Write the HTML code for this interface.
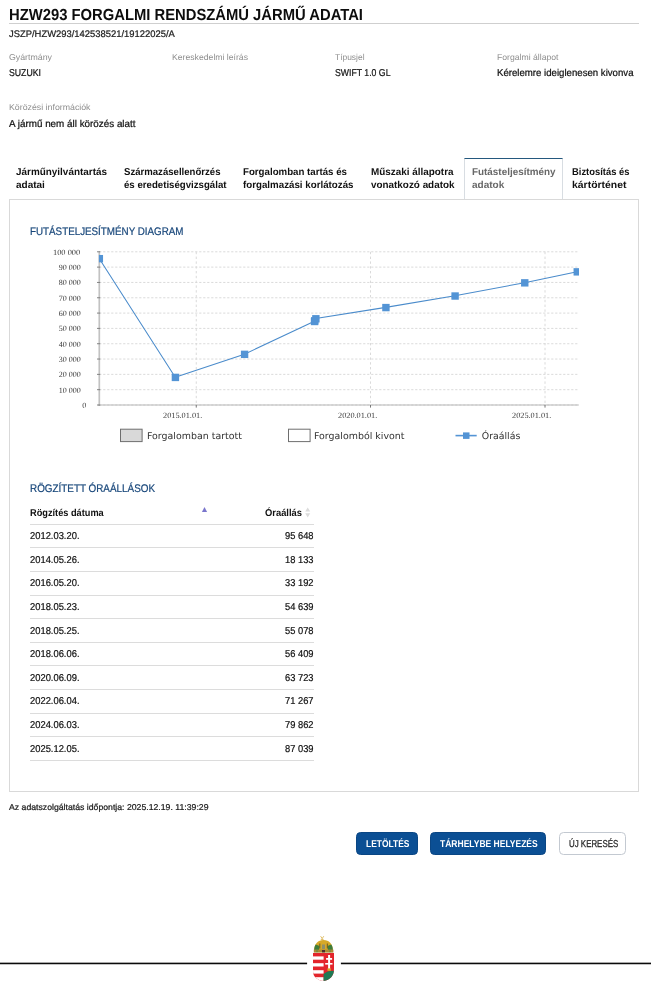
<!DOCTYPE html>
<html lang="hu">
<head>
<meta charset="utf-8">
<title>HZW293 forgalmi rendszámú jármű adatai</title>
<style>
html,body{margin:0;padding:0;background:#fff;}
body{width:651px;height:983px;position:relative;overflow:hidden;font-family:"Liberation Sans",sans-serif;color:#111;}
.abs{position:absolute;}
.t{position:absolute;white-space:nowrap;transform-origin:0 0;text-rendering:geometricPrecision;}
.hr{position:absolute;left:9px;top:23px;width:630px;height:1px;background:#cfcfcf;}
.panel{position:absolute;left:9px;top:199px;width:630px;height:593px;border:1px solid #d9d9d9;box-sizing:border-box;background:transparent;}
.tabact{position:absolute;left:464px;top:157.7px;width:99px;height:41.5px;border:1px solid #d8dde2;border-top:1.5px solid #24587e;border-bottom:none;background:#fff;box-sizing:border-box;}
.row{position:absolute;left:30px;width:284px;height:1px;background:#dcdcdc;}
.btn{position:absolute;top:831.6px;height:23px;box-sizing:border-box;border-radius:4.5px;}
.btn.p{background:#0b4f94;border:1px solid #0a4684;}
.btn.s{background:#fff;border:1px solid #c3c9d1;}
.fl{position:absolute;top:962.6px;height:1.6px;background:#0a0a0a;}
</style>
</head>
<body>
<div class="hr"></div>
<div class="tabact"></div>
<div class="panel"></div>
<div class="row" style="top:523.75px"></div>
<div class="row" style="top:547.35px"></div>
<div class="row" style="top:570.95px"></div>
<div class="row" style="top:594.55px"></div>
<div class="row" style="top:618.15px"></div>
<div class="row" style="top:641.75px"></div>
<div class="row" style="top:665.35px"></div>
<div class="row" style="top:688.95px"></div>
<div class="row" style="top:712.55px"></div>
<div class="row" style="top:736.15px"></div>
<div class="row" style="top:759.75px"></div>
<svg class="abs" style="left:198px;top:504px" width="12" height="12" viewBox="0 0 12 12"><path d="M3.9 7.9 L6.5 3.1 L9.1 7.9 Z" fill="#7a76cc"/></svg>
<svg class="abs" style="left:302px;top:504px" width="12" height="16" viewBox="0 0 12 16"><path d="M3.2 7.6 L5.7 3.4 L8.2 7.6 Z M3.2 9.2 L5.7 13.4 L8.2 9.2 Z" fill="#dcdcdc"/></svg>
<div class="btn p" style="left:356px;width:61.8px"></div>
<div class="btn p" style="left:430px;width:116.2px"></div>
<div class="btn s" style="left:559.2px;width:67.2px"></div>
<svg class="abs" style="left:0;top:240px" width="651" height="215" viewBox="0 240 651 215">
<defs><clipPath id="pc"><rect x="98.9" y="245.8" width="480.10" height="165.2"/></clipPath></defs>
<line x1="99.2" x2="578.8" y1="405.00" y2="405.00" stroke="#d6d6d6" stroke-width="0.9" stroke-dasharray="2.2 1.8"/>
<line x1="99.2" x2="578.8" y1="389.68" y2="389.68" stroke="#d6d6d6" stroke-width="0.9" stroke-dasharray="2.2 1.8"/>
<line x1="99.2" x2="578.8" y1="374.36" y2="374.36" stroke="#d6d6d6" stroke-width="0.9" stroke-dasharray="2.2 1.8"/>
<line x1="99.2" x2="578.8" y1="359.04" y2="359.04" stroke="#d6d6d6" stroke-width="0.9" stroke-dasharray="2.2 1.8"/>
<line x1="99.2" x2="578.8" y1="343.72" y2="343.72" stroke="#d6d6d6" stroke-width="0.9" stroke-dasharray="2.2 1.8"/>
<line x1="99.2" x2="578.8" y1="328.40" y2="328.40" stroke="#d6d6d6" stroke-width="0.9" stroke-dasharray="2.2 1.8"/>
<line x1="99.2" x2="578.8" y1="313.08" y2="313.08" stroke="#d6d6d6" stroke-width="0.9" stroke-dasharray="2.2 1.8"/>
<line x1="99.2" x2="578.8" y1="297.76" y2="297.76" stroke="#d6d6d6" stroke-width="0.9" stroke-dasharray="2.2 1.8"/>
<line x1="99.2" x2="578.8" y1="282.44" y2="282.44" stroke="#d6d6d6" stroke-width="0.9" stroke-dasharray="2.2 1.8"/>
<line x1="99.2" x2="578.8" y1="267.12" y2="267.12" stroke="#d6d6d6" stroke-width="0.9" stroke-dasharray="2.2 1.8"/>
<line x1="99.2" x2="578.8" y1="251.80" y2="251.80" stroke="#d6d6d6" stroke-width="0.9" stroke-dasharray="2.2 1.8"/>
<line x1="196.25" x2="196.25" y1="251.80" y2="405.0" stroke="#d6d6d6" stroke-width="0.9" stroke-dasharray="2.4 2.4"/>
<line x1="370.5" x2="370.5" y1="251.80" y2="405.0" stroke="#d6d6d6" stroke-width="0.9" stroke-dasharray="2.4 2.4"/>
<line x1="545.0" x2="545.0" y1="251.80" y2="405.0" stroke="#d6d6d6" stroke-width="0.9" stroke-dasharray="2.4 2.4"/>
<line x1="99.3" x2="99.3" y1="251.30" y2="406.0" stroke="#c2c2c2" stroke-width="1.7"/>
<line x1="98.2" x2="578.8" y1="405.0" y2="405.0" stroke="#b8b8b8" stroke-width="1.2"/>
<line x1="97.0" x2="100.2" y1="405.00" y2="405.00" stroke="#777" stroke-width="0.9"/>
<line x1="97.0" x2="100.2" y1="389.68" y2="389.68" stroke="#777" stroke-width="0.9"/>
<line x1="97.0" x2="100.2" y1="374.36" y2="374.36" stroke="#777" stroke-width="0.9"/>
<line x1="97.0" x2="100.2" y1="359.04" y2="359.04" stroke="#777" stroke-width="0.9"/>
<line x1="97.0" x2="100.2" y1="343.72" y2="343.72" stroke="#777" stroke-width="0.9"/>
<line x1="97.0" x2="100.2" y1="328.40" y2="328.40" stroke="#777" stroke-width="0.9"/>
<line x1="97.0" x2="100.2" y1="313.08" y2="313.08" stroke="#777" stroke-width="0.9"/>
<line x1="97.0" x2="100.2" y1="297.76" y2="297.76" stroke="#777" stroke-width="0.9"/>
<line x1="97.0" x2="100.2" y1="282.44" y2="282.44" stroke="#777" stroke-width="0.9"/>
<line x1="97.0" x2="100.2" y1="267.12" y2="267.12" stroke="#777" stroke-width="0.9"/>
<line x1="97.0" x2="100.2" y1="251.80" y2="251.80" stroke="#777" stroke-width="0.9"/>
<line x1="196.25" x2="196.25" y1="405.0" y2="407.6" stroke="#777" stroke-width="1"/>
<line x1="370.5" x2="370.5" y1="405.0" y2="407.6" stroke="#777" stroke-width="1"/>
<line x1="545.0" x2="545.0" y1="405.0" y2="407.6" stroke="#777" stroke-width="1"/>
<g clip-path="url(#pc)">
<polyline fill="none" stroke="#4a8bcb" stroke-width="1.05" stroke-linejoin="round" points="99.20,258.47 175.26,377.22 244.44,354.15 314.39,321.29 314.58,320.62 315.72,318.58 385.77,307.38 454.95,295.82 524.61,282.65 577.10,271.66"/>
<rect x="95.65" y="254.97" width="7.4" height="7.4" fill="#5394d5"/>
<rect x="171.71" y="373.72" width="7.4" height="7.4" fill="#5394d5"/>
<rect x="240.89" y="350.65" width="7.4" height="7.4" fill="#5394d5"/>
<rect x="310.84" y="317.79" width="7.4" height="7.4" fill="#5394d5"/>
<rect x="311.03" y="317.12" width="7.4" height="7.4" fill="#5394d5"/>
<rect x="312.17" y="315.08" width="7.4" height="7.4" fill="#5394d5"/>
<rect x="382.22" y="303.88" width="7.4" height="7.4" fill="#5394d5"/>
<rect x="451.40" y="292.32" width="7.4" height="7.4" fill="#5394d5"/>
<rect x="521.06" y="279.15" width="7.4" height="7.4" fill="#5394d5"/>
<rect x="573.55" y="268.16" width="7.4" height="7.4" fill="#5394d5"/>
</g>
<rect x="120.5" y="429.2" width="21.6" height="12.4" fill="#d9d9d9" stroke="#6e6e6e" stroke-width="1"/>
<rect x="288.5" y="429.2" width="21.6" height="12.4" fill="#ffffff" stroke="#6e6e6e" stroke-width="1"/>
<line x1="455.5" x2="476.7" y1="435.6" y2="435.6" stroke="#5394d5" stroke-width="1.6"/>
<rect x="463" y="432.4" width="6.5" height="6.5" fill="#5394d5"/>
</svg>
<div class="t" style='left:8.60px;top:5px;font:bold 16px/21px "Liberation Sans",sans-serif;color:#0d0d0d;transform:scaleX(0.9247);'>HZW293 FORGALMI RENDSZÁMÚ JÁRMŰ ADATAI</div>
<div class="t" style='left:8.80px;top:29px;font:normal 9.5px/12px "Liberation Sans",sans-serif;color:#1a1a1a;transform:scaleX(0.9903);-webkit-text-stroke:0.22px #1a1a1a;'>JSZP/HZW293/142538521/19122025/A</div>
<div class="t" style='left:9.00px;top:52px;font:normal 8.5px/11px "Liberation Sans",sans-serif;color:#8e8e8e;transform:scaleX(1.0342);'>Gyártmány</div>
<div class="t" style='left:172.00px;top:52px;font:normal 8.5px/11px "Liberation Sans",sans-serif;color:#8e8e8e;transform:scaleX(1.0182);'>Kereskedelmi leírás</div>
<div class="t" style='left:334.50px;top:52px;font:normal 8.5px/11px "Liberation Sans",sans-serif;color:#8e8e8e;transform:scaleX(0.9911);'>Típusjel</div>
<div class="t" style='left:497.00px;top:52px;font:normal 8.5px/11px "Liberation Sans",sans-serif;color:#8e8e8e;transform:scaleX(1.0168);'>Forgalmi állapot</div>
<div class="t" style='left:9.00px;top:102px;font:normal 8.5px/11px "Liberation Sans",sans-serif;color:#8e8e8e;transform:scaleX(1.0331);'>Körözési információk</div>
<div class="t" style='left:9.00px;top:67px;font:normal 10px/13px "Liberation Sans",sans-serif;color:#111;transform:scaleX(0.8726);-webkit-text-stroke:0.22px #111;'>SUZUKI</div>
<div class="t" style='left:334.50px;top:67px;font:normal 10px/13px "Liberation Sans",sans-serif;color:#111;transform:scaleX(0.8708);-webkit-text-stroke:0.22px #111;'>SWIFT 1.0 GL</div>
<div class="t" style='left:497.00px;top:67px;font:normal 10px/13px "Liberation Sans",sans-serif;color:#111;transform:scaleX(0.9630);-webkit-text-stroke:0.22px #111;'>Kérelemre ideiglenesen kivonva</div>
<div class="t" style='left:8.70px;top:118px;font:normal 10px/13px "Liberation Sans",sans-serif;color:#111;transform:scaleX(0.9853);-webkit-text-stroke:0.22px #111;'>A jármű nem áll körözés alatt</div>
<div class="t" style='left:16.00px;top:166px;font:bold 10px/13px "Liberation Sans",sans-serif;color:#111;transform:scaleX(0.9922);'>Járműnyilvántartás</div>
<div class="t" style='left:16.00px;top:179px;font:bold 10px/13px "Liberation Sans",sans-serif;color:#111;'>adatai</div>
<div class="t" style='left:123.50px;top:166px;font:bold 10px/13px "Liberation Sans",sans-serif;color:#111;transform:scaleX(0.9590);'>Származásellenőrzés</div>
<div class="t" style='left:123.50px;top:179px;font:bold 10px/13px "Liberation Sans",sans-serif;color:#111;transform:scaleX(0.9654);'>és eredetiségvizsgálat</div>
<div class="t" style='left:243.00px;top:166px;font:bold 10px/13px "Liberation Sans",sans-serif;color:#111;transform:scaleX(0.9696);'>Forgalomban tartás és</div>
<div class="t" style='left:243.00px;top:179px;font:bold 10px/13px "Liberation Sans",sans-serif;color:#111;transform:scaleX(0.9746);'>forgalmazási korlátozás</div>
<div class="t" style='left:370.50px;top:166px;font:bold 10px/13px "Liberation Sans",sans-serif;color:#111;transform:scaleX(0.9897);'>Műszaki állapotra</div>
<div class="t" style='left:370.50px;top:179px;font:bold 10px/13px "Liberation Sans",sans-serif;color:#111;transform:scaleX(0.9885);'>vonatkozó adatok</div>
<div class="t" style='left:472.00px;top:166px;font:bold 10px/13px "Liberation Sans",sans-serif;color:#686868;transform:scaleX(0.9883);'>Futásteljesítmény</div>
<div class="t" style='left:472.00px;top:179px;font:bold 10px/13px "Liberation Sans",sans-serif;color:#686868;'>adatok</div>
<div class="t" style='left:572.00px;top:166px;font:bold 10px/13px "Liberation Sans",sans-serif;color:#111;transform:scaleX(0.9405);'>Biztosítás és</div>
<div class="t" style='left:572.00px;top:179px;font:bold 10px/13px "Liberation Sans",sans-serif;color:#111;transform:scaleX(1.0431);'>kártörténet</div>
<div class="t" style='left:30.30px;top:225px;font:normal 11px/14px "Liberation Sans",sans-serif;color:#17467a;transform:scaleX(0.8916);-webkit-text-stroke:0.22px #17467a;'>FUTÁSTELJESÍTMÉNY DIAGRAM</div>
<div class="t" style='left:30.30px;top:482px;font:normal 11px/14px "Liberation Sans",sans-serif;color:#17467a;transform:scaleX(0.8982);-webkit-text-stroke:0.22px #17467a;'>RÖGZÍTETT ÓRAÁLLÁSOK</div>
<div class="t" style='left:30.30px;top:507px;font:bold 10px/13px "Liberation Sans",sans-serif;color:#111;transform:scaleX(0.9217);'>Rögzítés dátuma</div>
<div class="t" style='left:264.70px;top:507px;font:bold 10px/13px "Liberation Sans",sans-serif;color:#111;transform:scaleX(0.9371);'>Óraállás</div>
<div class="t" style='left:30.30px;top:530px;font:normal 10px/13px "Liberation Sans",sans-serif;color:#111;transform:scaleX(0.9370);-webkit-text-stroke:0.22px #111;'>2012.03.20.</div>
<div class="t" style='left:285.30px;top:530px;font:normal 10px/13px "Liberation Sans",sans-serif;color:#111;transform:scaleX(0.9316);-webkit-text-stroke:0.22px #111;'>95 648</div>
<div class="t" style='left:30.30px;top:554px;font:normal 10px/13px "Liberation Sans",sans-serif;color:#111;transform:scaleX(0.9370);-webkit-text-stroke:0.22px #111;'>2014.05.26.</div>
<div class="t" style='left:285.30px;top:554px;font:normal 10px/13px "Liberation Sans",sans-serif;color:#111;transform:scaleX(0.9316);-webkit-text-stroke:0.22px #111;'>18 133</div>
<div class="t" style='left:30.30px;top:577px;font:normal 10px/13px "Liberation Sans",sans-serif;color:#111;transform:scaleX(0.9370);-webkit-text-stroke:0.22px #111;'>2016.05.20.</div>
<div class="t" style='left:285.30px;top:577px;font:normal 10px/13px "Liberation Sans",sans-serif;color:#111;transform:scaleX(0.9316);-webkit-text-stroke:0.22px #111;'>33 192</div>
<div class="t" style='left:30.30px;top:601px;font:normal 10px/13px "Liberation Sans",sans-serif;color:#111;transform:scaleX(0.9370);-webkit-text-stroke:0.22px #111;'>2018.05.23.</div>
<div class="t" style='left:285.30px;top:601px;font:normal 10px/13px "Liberation Sans",sans-serif;color:#111;transform:scaleX(0.9316);-webkit-text-stroke:0.22px #111;'>54 639</div>
<div class="t" style='left:30.30px;top:625px;font:normal 10px/13px "Liberation Sans",sans-serif;color:#111;transform:scaleX(0.9370);-webkit-text-stroke:0.22px #111;'>2018.05.25.</div>
<div class="t" style='left:285.30px;top:625px;font:normal 10px/13px "Liberation Sans",sans-serif;color:#111;transform:scaleX(0.9316);-webkit-text-stroke:0.22px #111;'>55 078</div>
<div class="t" style='left:30.30px;top:648px;font:normal 10px/13px "Liberation Sans",sans-serif;color:#111;transform:scaleX(0.9370);-webkit-text-stroke:0.22px #111;'>2018.06.06.</div>
<div class="t" style='left:285.30px;top:648px;font:normal 10px/13px "Liberation Sans",sans-serif;color:#111;transform:scaleX(0.9316);-webkit-text-stroke:0.22px #111;'>56 409</div>
<div class="t" style='left:30.30px;top:672px;font:normal 10px/13px "Liberation Sans",sans-serif;color:#111;transform:scaleX(0.9370);-webkit-text-stroke:0.22px #111;'>2020.06.09.</div>
<div class="t" style='left:285.30px;top:672px;font:normal 10px/13px "Liberation Sans",sans-serif;color:#111;transform:scaleX(0.9316);-webkit-text-stroke:0.22px #111;'>63 723</div>
<div class="t" style='left:30.30px;top:695px;font:normal 10px/13px "Liberation Sans",sans-serif;color:#111;transform:scaleX(0.9370);-webkit-text-stroke:0.22px #111;'>2022.06.04.</div>
<div class="t" style='left:285.30px;top:695px;font:normal 10px/13px "Liberation Sans",sans-serif;color:#111;transform:scaleX(0.9316);-webkit-text-stroke:0.22px #111;'>71 267</div>
<div class="t" style='left:30.30px;top:719px;font:normal 10px/13px "Liberation Sans",sans-serif;color:#111;transform:scaleX(0.9370);-webkit-text-stroke:0.22px #111;'>2024.06.03.</div>
<div class="t" style='left:285.30px;top:719px;font:normal 10px/13px "Liberation Sans",sans-serif;color:#111;transform:scaleX(0.9316);-webkit-text-stroke:0.22px #111;'>79 862</div>
<div class="t" style='left:30.30px;top:743px;font:normal 10px/13px "Liberation Sans",sans-serif;color:#111;transform:scaleX(0.9370);-webkit-text-stroke:0.22px #111;'>2025.12.05.</div>
<div class="t" style='left:285.30px;top:743px;font:normal 10px/13px "Liberation Sans",sans-serif;color:#111;transform:scaleX(0.9316);-webkit-text-stroke:0.22px #111;'>87 039</div>
<div class="t" style='left:9.00px;top:802px;font:normal 8.5px/11px "Liberation Sans",sans-serif;color:#1a1a1a;transform:scaleX(1.0229);-webkit-text-stroke:0.22px #1a1a1a;'>Az adatszolgáltatás időpontja: 2025.12.19. 11:39:29</div>
<div class="t" style='left:365.70px;top:838px;font:bold 10px/13px "Liberation Sans",sans-serif;color:#fff;transform:scaleX(0.8430);'>LETÖLTÉS</div>
<div class="t" style='left:440.10px;top:838px;font:bold 10px/13px "Liberation Sans",sans-serif;color:#fff;transform:scaleX(0.8507);'>TÁRHELYBE HELYEZÉS</div>
<div class="t" style='left:568.50px;top:838px;font:normal 10px/13px "Liberation Sans",sans-serif;color:#2b2b2b;transform:scaleX(0.7904);-webkit-text-stroke:0.3px #2b2b2b;'>ÚJ KERESÉS</div>
<div class="t" style='left:147.20px;top:431px;font:normal 9.4px/12px "DejaVu Sans","Liberation Sans",sans-serif;color:#333;transform:scaleX(1.0073);'>Forgalomban tartott</div>
<div class="t" style='left:314.20px;top:431px;font:normal 9.4px/12px "DejaVu Sans","Liberation Sans",sans-serif;color:#333;transform:scaleX(1.0071);'>Forgalomból kivont</div>
<div class="t" style='left:481.80px;top:431px;font:normal 9.4px/12px "DejaVu Sans","Liberation Sans",sans-serif;color:#333;'>Óraállás</div>
<div class="t" style='left:82.30px;top:401px;font:normal 8px/10px "Liberation Serif",serif;color:#3a3a3a;'>0</div>
<div class="t" style='left:58.80px;top:386px;font:normal 8px/10px "Liberation Serif",serif;color:#3a3a3a;'>10 000</div>
<div class="t" style='left:58.80px;top:370px;font:normal 8px/10px "Liberation Serif",serif;color:#3a3a3a;'>20 000</div>
<div class="t" style='left:58.80px;top:355px;font:normal 8px/10px "Liberation Serif",serif;color:#3a3a3a;'>30 000</div>
<div class="t" style='left:58.80px;top:340px;font:normal 8px/10px "Liberation Serif",serif;color:#3a3a3a;'>40 000</div>
<div class="t" style='left:58.80px;top:324px;font:normal 8px/10px "Liberation Serif",serif;color:#3a3a3a;'>50 000</div>
<div class="t" style='left:58.80px;top:309px;font:normal 8px/10px "Liberation Serif",serif;color:#3a3a3a;'>60 000</div>
<div class="t" style='left:58.80px;top:294px;font:normal 8px/10px "Liberation Serif",serif;color:#3a3a3a;'>70 000</div>
<div class="t" style='left:58.80px;top:278px;font:normal 8px/10px "Liberation Serif",serif;color:#3a3a3a;'>80 000</div>
<div class="t" style='left:58.80px;top:263px;font:normal 8px/10px "Liberation Serif",serif;color:#3a3a3a;'>90 000</div>
<div class="t" style='left:53.00px;top:248px;font:normal 8px/10px "Liberation Serif",serif;color:#3a3a3a;transform:scaleX(1.0462);'>100 000</div>
<div class="t" style='left:163.00px;top:411px;font:normal 8px/10px "Liberation Serif",serif;color:#3a3a3a;transform:scaleX(1.0316);'>2015.01.01.</div>
<div class="t" style='left:337.70px;top:411px;font:normal 8px/10px "Liberation Serif",serif;color:#3a3a3a;transform:scaleX(1.0316);'>2020.01.01.</div>
<div class="t" style='left:512.20px;top:411px;font:normal 8px/10px "Liberation Serif",serif;color:#3a3a3a;transform:scaleX(1.0316);'>2025.01.01.</div>
<svg class="abs" style="left:0;top:958px" width="651" height="10" viewBox="0 958 651 10"><rect x="0" y="962.65" width="307.1" height="1.6" fill="#0a0a0a"/><rect x="340.9" y="962.65" width="310.1" height="1.6" fill="#0a0a0a"/></svg>
<svg class="abs" style="left:305px;top:930px" width="40" height="53" viewBox="305 930 40 53">
<defs><clipPath id="sh"><path d="M313 953 H334 V969 C334 976 330 980 323.6 981 C318.5 980.3 313 978 313 971 Z"/></clipPath></defs>
<path d="M320.6 936.2 L322.2 938.4 L323.8 936.2 M322.2 938.4 V940 M320.8 939.4 H323.6" stroke="#dcb95c" stroke-width="0.9" fill="none"/>
<path d="M314.2 950 C314.2 944 318 940 323.5 940 C329 940 332.8 944 332.8 950 Z" fill="#d7a928"/>
<path d="M314.2 950 C314.2 947.5 314.8 945.8 315.8 944.6 L319.5 946 L319 950 Z" fill="#3f7d3c"/>
<path d="M332.8 950 C332.8 947.5 332.2 945.8 331.2 944.6 L327.5 946 L328 950 Z" fill="#3f7d3c"/>
<rect x="322" y="944.5" width="3" height="4.5" fill="#8f8f6a"/>
<rect x="319.3" y="943.5" width="1" height="5" fill="#6b5a1e"/><rect x="326.8" y="943.5" width="1" height="5" fill="#6b5a1e"/>
<rect x="313.8" y="949.6" width="19.6" height="3" fill="#a98a35"/>
<rect x="322" y="950" width="3" height="2.4" fill="#4a2f2a"/>
<rect x="316" y="950.3" width="2" height="1.8" fill="#7a8a3a"/><rect x="329" y="950.3" width="2" height="1.8" fill="#7a8a3a"/>
<g clip-path="url(#sh)">
<rect x="312" y="952" width="24" height="30" fill="#e3242b"/>
<rect x="312" y="956.4" width="11.6" height="3.3" fill="#fff"/>
<rect x="312" y="963.2" width="11.6" height="3.3" fill="#fff"/>
<rect x="312" y="970.2" width="11.6" height="3.4" fill="#fff"/>
<rect x="312" y="977.2" width="11.6" height="4" fill="#fff"/>
<path d="M323.6 982 V974 C326 971.8 329 970.7 334.5 970.7 V982 Z" fill="#1f7a55"/>
<rect x="328.1" y="955" width="2" height="14" fill="#fff"/>
<rect x="326.1" y="958" width="6" height="1.8" fill="#fff"/>
<rect x="325.2" y="963" width="7.3" height="1.6" fill="#fff"/>
<rect x="327.4" y="968.4" width="3.4" height="2.4" fill="#d7a928"/>
</g>
</svg>
</body>
</html>
